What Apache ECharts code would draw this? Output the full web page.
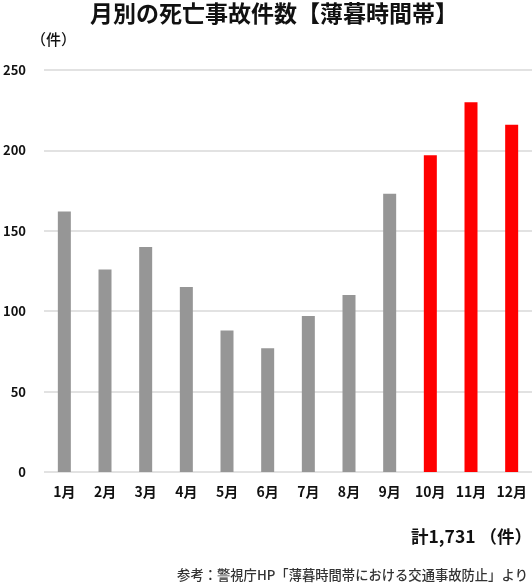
<!DOCTYPE html>
<html>
<head>
<meta charset="utf-8">
<script src="https://cdn.jsdelivr.net/npm/echarts@6/dist/echarts.min.js"></script>
<style>
html,body{margin:0;padding:0;background:#fff;}
#chart{width:532px;height:588px;}
</style>
</head>
<body>
<div id="chart"></div>
<script>
const categories = ['1月','2月','3月','4月','5月','6月','7月','8月','9月','10月','11月','12月'];
const values = [162,126,140,115,88,77,97,110,173,197,230,216];
const highlighted = [false,false,false,false,false,false,false,false,false,true,true,true];
const yTicks = {min:0, max:250, interval:50};
const titleText = '月別の死亡事故件数【薄暮時間帯】';
const unitText = '（件）';
const totalText = '計1,731 （件）';
const sourceText = '参考：警視庁HP「薄暮時間帯における交通事故防止」より';

const FONT = '"Noto Sans CJK JP", "Noto Sans", sans-serif';
const chart = echarts.init(document.getElementById('chart'), null, {renderer:'canvas'});
chart.setOption({
  animation:false,
  backgroundColor:'#fff',
  textStyle:{fontFamily:FONT},
  grid:{left:40, right:0, top:70, bottom:116, containLabel:false},
  xAxis:{
    type:'category',
    data:categories,
    axisLine:{show:false},
    axisTick:{show:false},
    axisLabel:{color:'#111', fontSize:14, fontWeight:'bold', margin:13, fontFamily:FONT, interval:0}
  },
  yAxis:{
    type:'value',
    min:yTicks.min, max:yTicks.max, interval:yTicks.interval,
    axisLine:{show:false},
    axisTick:{show:false},
    splitLine:{lineStyle:{color:'#d9d9d9', width:1.5}},
    axisLabel:{color:'#111', fontSize:13, fontWeight:'bold', margin:18, fontFamily:FONT}
  },
  series:[{
    type:'bar',
    barWidth:13,
    data:values.map((v,i)=>({value:v, itemStyle:{color: highlighted[i] ? '#ff0000' : '#969696'}})),
    silent:true
  }],
  graphic:[
    {type:'text', left:90, top:2, style:{text:titleText, font:'bold 23px '+FONT, fill:'#111'}},
    {type:'text', left:31, top:32, style:{text:unitText, font:'500 15px '+FONT, fill:'#111'}},
    {type:'text', right:0, top:528, style:{text:totalText, font:'bold 17.5px '+FONT, fill:'#111'}},
    {type:'text', right:4, top:568, style:{text:sourceText, font:'500 13.3px '+FONT, fill:'#333'}}
  ]
});
</script>
</body>
</html>
